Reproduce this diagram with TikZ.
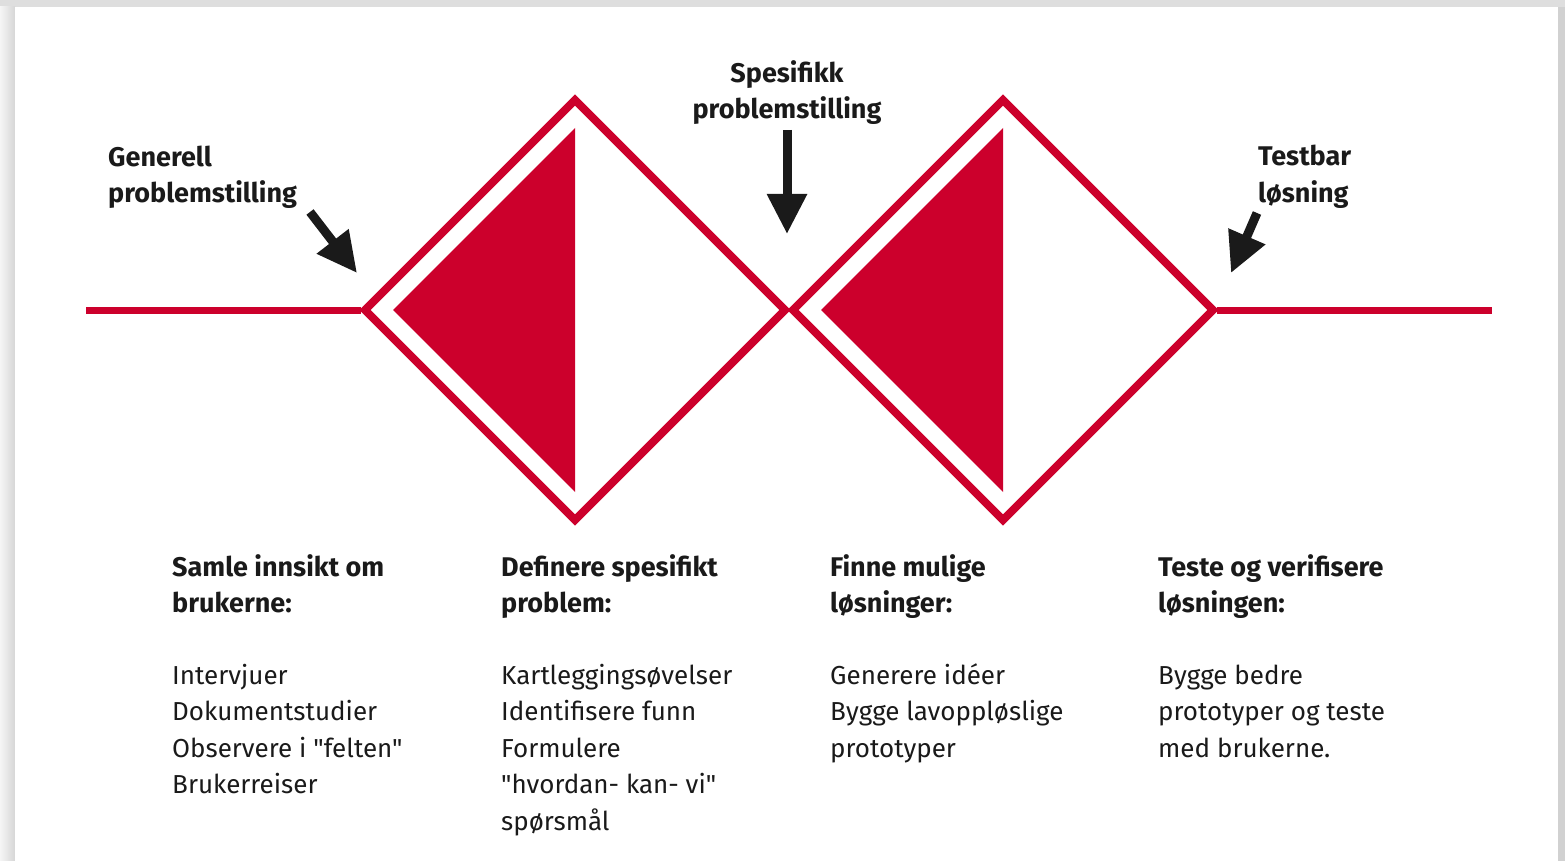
\documentclass[tikz,border=0pt]{standalone}
\usepackage{fontspec}
\newfontfamily\plexlike{Fira Sans}
\usepackage{tikz}
\usetikzlibrary{arrows.meta, positioning}
\definecolor{dtred}{RGB}{204,0,44}
\definecolor{dtink}{RGB}{26,26,26}

\begin{document}
\begin{tikzpicture}[x=1pt, y=-1pt]
  \tikzset{
    phase line/.style={draw=dtred, line width=7pt},
    diamond edge/.style={draw=dtred, line width=8pt, line join=miter},
    half fill/.style={fill=dtred},
    entry label/.style={font=\plexlike\fontsize{27}{36}\selectfont\bfseries, text=dtink, inner sep=0pt},
    phase head/.style={font=\plexlike\fontsize{27}{36}\selectfont\bfseries, text=dtink, align=left, inner sep=0pt, anchor=base west},
    phase body/.style={font=\plexlike\fontsize{26}{36.5}\selectfont, text=dtink, align=left, inner sep=0pt, anchor=base west},
    pointer/.style={draw=dtink, line width=9pt, -{Triangle[length=40pt, width=38pt]}}
  }

  % card and shadow
  \fill[black!13] (0,0) rectangle (1565,861);
  \shade[left color=black!4, right color=black!16] (0,7) rectangle (15,861);
  \fill[black!18] (1558,7) rectangle (1565,861);
  \fill[white] (15,7) rectangle (1558,861);
  \useasboundingbox (0,0) rectangle (1565,861);

  % double diamond
  \foreach \c/\n in {575/d1, 1003/d2} {
    \coordinate (\n-w) at (\c-210, 310);
    \coordinate (\n-e) at (\c+210, 310);
    \fill[half fill] (\c-182, 310) -- (\c, 128) -- (\c, 492) -- cycle;
    \draw[diamond edge] (\c-210, 310) -- (\c, 100) -- (\c+210, 310) -- (\c, 520) -- cycle;
  }
  \coordinate (line start) at (86, 310);
  \coordinate (line end) at (1492, 310);
  \draw[phase line] (line start) -- ([xshift=-4pt]d1-w);
  \draw[phase line] ([xshift=4pt]d2-e) -- (line end);

  % entry labels (base = last line)
  \node[entry label, align=left, anchor=base west] (general) at (108, 203) {Generell\\problemstilling};
  \node[entry label, align=center, anchor=base] (specific) at (787, 119) {Spesifikk\\problemstilling};
  \node[entry label, align=left, anchor=base west] (testable) at (1258, 202) {Testbar\\løsning};

  \coordinate (p1 tail) at (310, 212);
  \coordinate (p1 tip) at (357, 273);
  \coordinate (p2 tail) at (787, 130);
  \coordinate (p2 tip) at (787, 234);
  \coordinate (p3 tail) at (1257, 213);
  \coordinate (p3 tip) at (1231, 273);
  \draw[pointer] (p1 tail) -- (p1 tip);
  \draw[pointer] (p2 tail) -- (p2 tip);
  \draw[pointer] (p3 tail) -- (p3 tip);

  % phases
  \node[phase head] (insight) at (172, 612) {Samle innsikt om\\brukerne:};
  \node[phase head] (define) at (501, 612) {Definere spesifikt\\problem:};
  \node[phase head] (ideate) at (830, 612) {Finne mulige\\løsninger:};
  \node[phase head] (verify) at (1158, 612) {Teste og verifisere\\løsningen:};

  \node[phase body] (insight list) at (172, 793.5) {Intervjuer\\Dokumentstudier\\Observere i "felten"\\Brukerreiser};
  \node[phase body] (define list) at (501, 830) {Kartleggingsøvelser\\Identifisere funn\\Formulere\\"hvordan- kan- vi"\\spørsmål};
  \node[phase body] (ideate list) at (830, 757) {Generere idéer\\Bygge lavoppløslige\\prototyper};
  \node[phase body] (verify list) at (1158, 757) {Bygge bedre\\prototyper og teste\\med brukerne.};
\end{tikzpicture}
\end{document}
